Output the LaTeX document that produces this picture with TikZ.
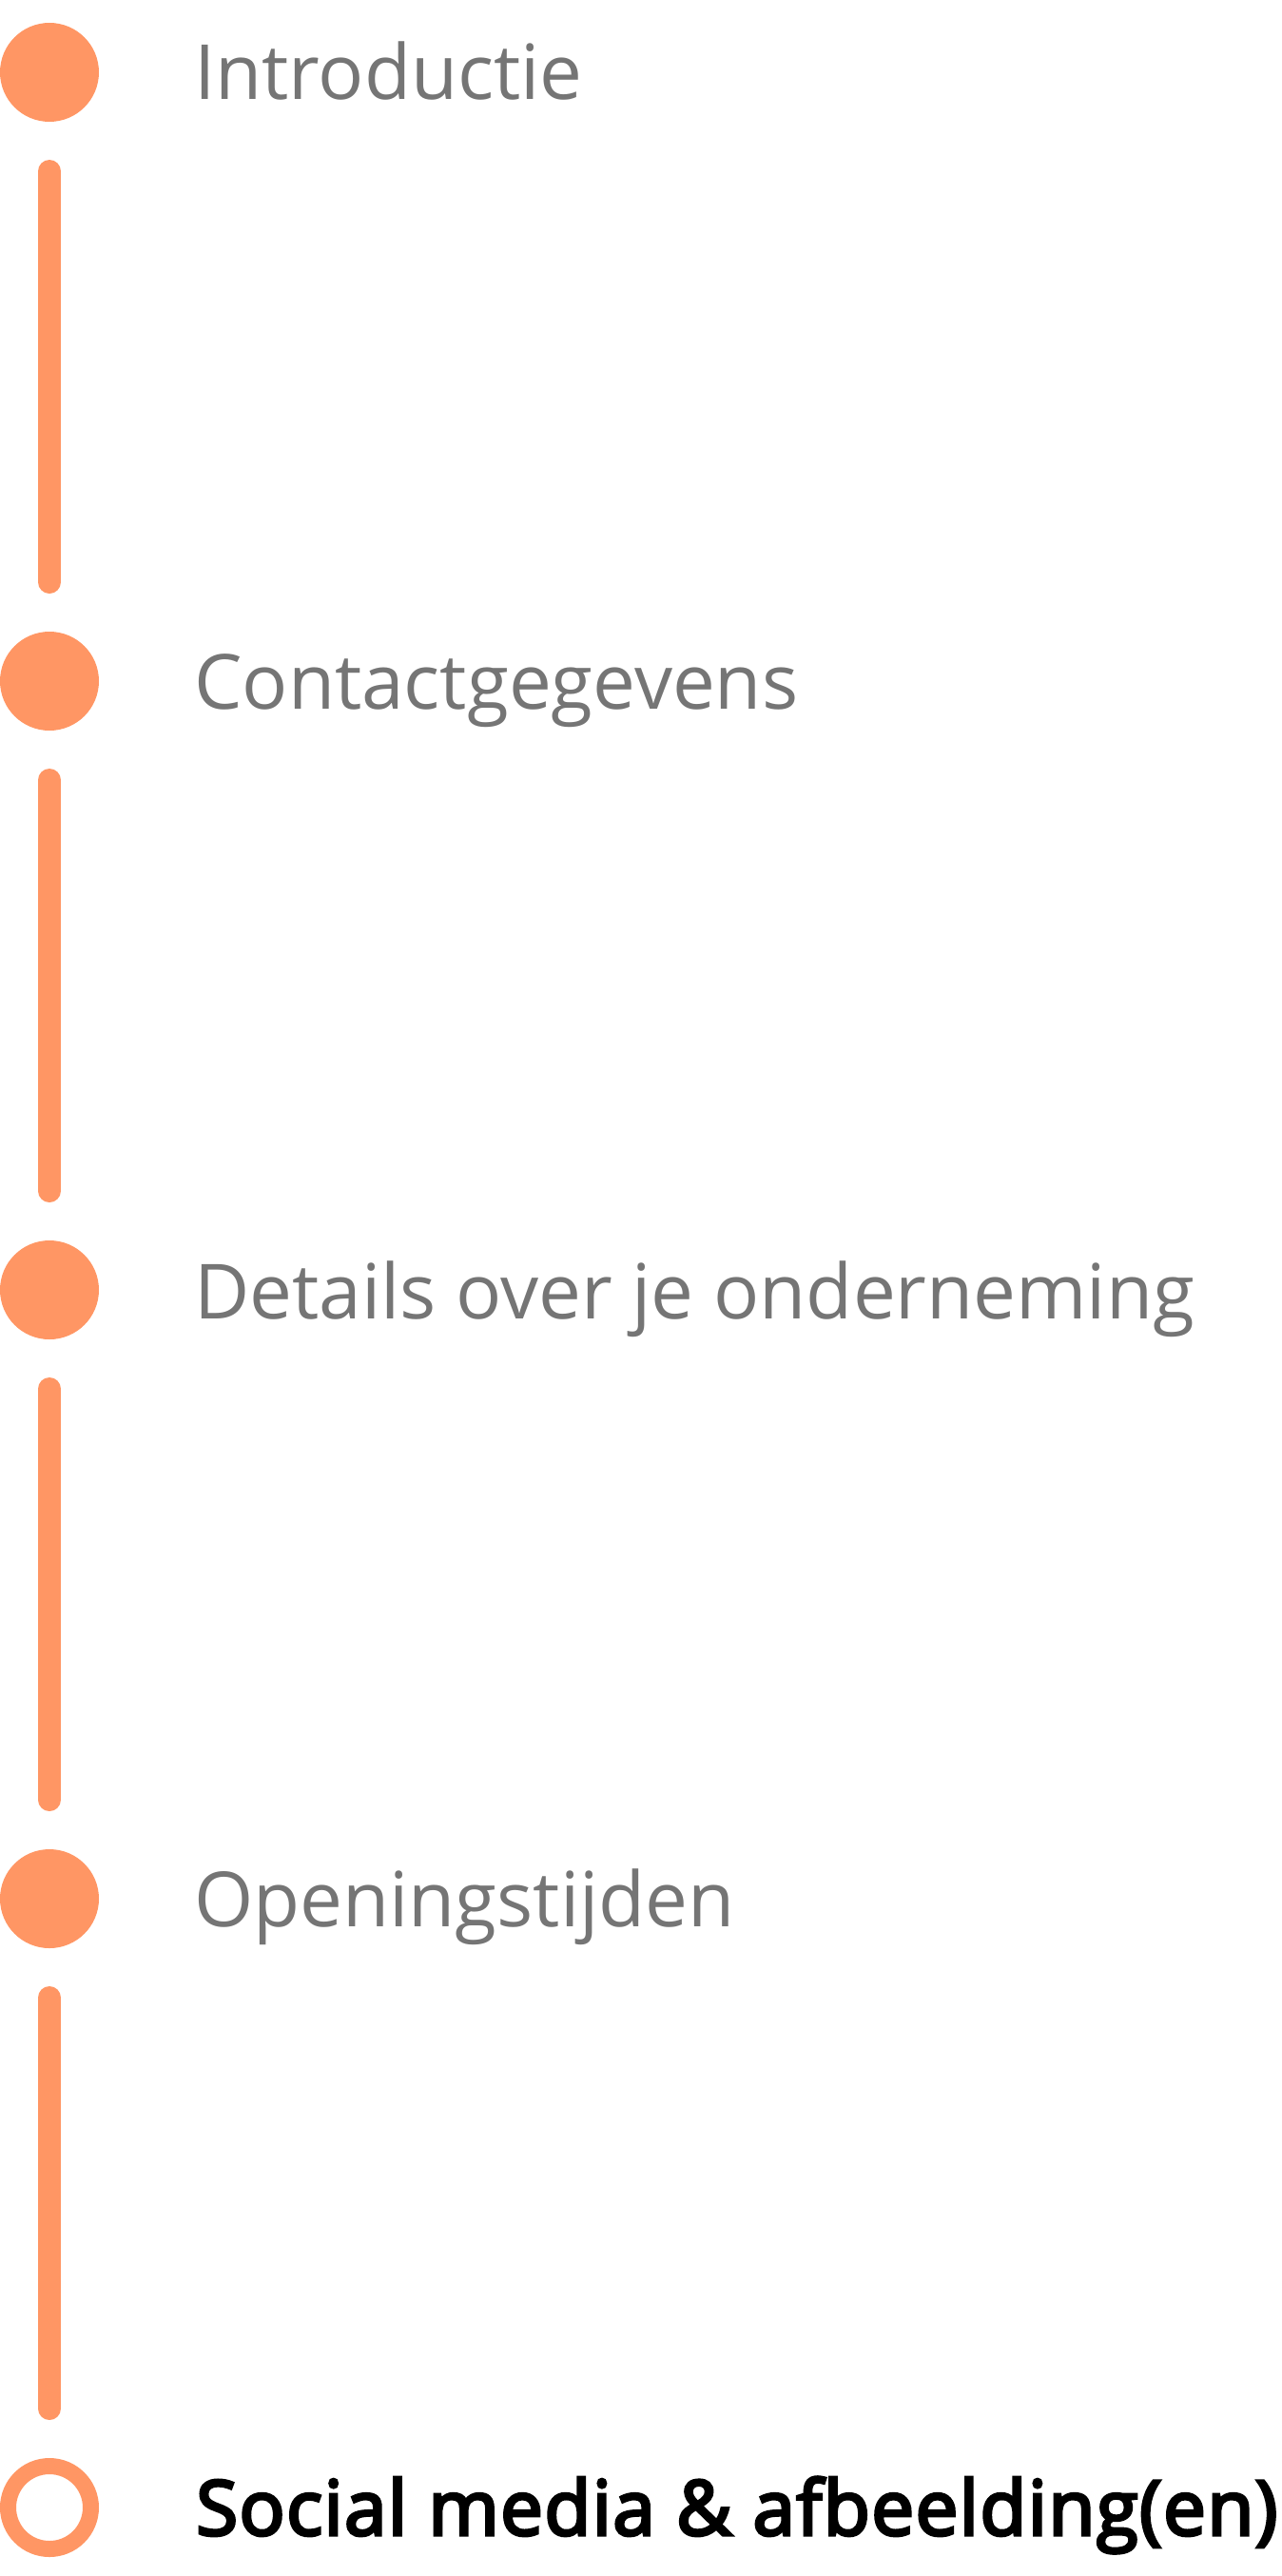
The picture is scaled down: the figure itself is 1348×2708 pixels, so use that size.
\documentclass[tikz,border=0pt]{standalone}
\usepackage{fontspec}
\setmainfont{Open Sans}
\newfontfamily\sbfont{Open Sans}[BoldFont=Open Sans, BoldFeatures={FakeBold=4,LetterSpace=1.7}]
\definecolor{accent}{HTML}{FF9664}
\definecolor{labelgray}{HTML}{757575}
\begin{document}
\begin{tikzpicture}[x=1pt,y=-1pt,
  dot/.style={circle,fill=accent,minimum size=104pt,inner sep=0pt,outer sep=0pt},
  ring/.style={circle,draw=accent,line width=17pt,fill=white,minimum size=87pt,inner sep=0pt,outer sep=0pt},
  linkline/.style={draw=accent,line width=24pt,line cap=round,shorten >=52pt,shorten <=52pt},
  lbl/.style={anchor=base west,inner sep=0pt,font=\fontsize{80pt}{96pt}\selectfont,text=labelgray},
  lblactive/.style={anchor=base west,inner sep=0pt,font=\sbfont\bfseries\fontsize{80pt}{96pt}\selectfont,text=black}]
\useasboundingbox (0,0) rectangle (1348,2708);
\node[dot] (s1) at (52,76) {};
\node[dot] (s2) at (52,716) {};
\node[dot] (s3) at (52,1356) {};
\node[dot] (s4) at (52,1996) {};
\node[ring] (s5) at (52,2636) {};
\draw[linkline] (s1.south) -- (s2.north);
\draw[linkline] (s2.south) -- (s3.north);
\draw[linkline] (s3.south) -- (s4.north);
\draw[linkline] (s4.south) -- (52,2584) coordinate (e5);
\node[lbl] (t1) at (204,105) {Introductie};
\node[lbl] (t2) at (204,745) {Contactgegevens};
\node[lbl] (t3) at (204,1386) {Details over je onderneming};
\node[lbl] (t4) at (204,2025) {Openingstijden};
\node[lblactive] (t5) at (206,2665) {Social media \& afbeelding(en)};
\end{tikzpicture}
\end{document}
